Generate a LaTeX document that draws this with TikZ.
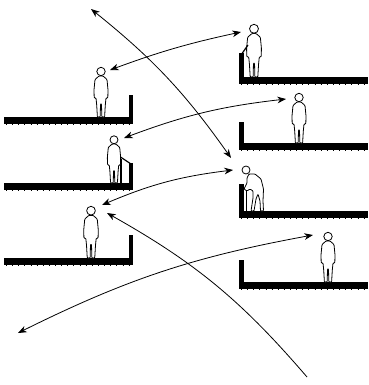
\documentclass[tikz,border=0pt]{standalone}
\usetikzlibrary{arrows.meta}

\begin{document}
\begin{tikzpicture}[x=0.75pt,y=0.75pt,
  line join=round,
  slab/.style={fill=black},
  ticks/.style={line width=0.9pt,dash pattern=on 0.3pt off 4.3pt},
  figure/.style={draw=black,fill=white,line width=0.6pt,rounded corners=0.6pt},
  rail/.style={draw=black,line width=0.9pt},
  sight/.style={line width=0.6pt,>={Stealth[length=6.5pt,width=5pt,inset=2pt]}},
  person/.pic={
    \path[figure] (-2,41) -- (-6,37.5) -- (-7,27) -- (-6.8,19) -- (-5,19)
      -- (-4.3,12) -- (-3.6,0) -- (-0.8,0) -- (-0.5,13) -- (0.5,13) -- (0.8,0)
      -- (3.6,0) -- (4.3,12) -- (5,19) -- (6.8,19) -- (7,27) -- (6,37.5)
      -- (2,41) -- cycle;
    \path[figure] (0,45.5) circle (4.2);
  },
  stooped/.pic={
    \draw[rail,line width=0.6pt] (-10,21) -- (-10,0);
    \path[figure] (-7,37) -- (-1,37) -- (5,32) -- (7.5,22) -- (7,10) -- (7.5,0)
      -- (4.5,0) -- (4,10) -- (2,17) -- (0,12) -- (-2,0) -- (-5,0) -- (-3,13)
      -- (-3,20) -- (-6,22) -- (-9,20) -- (-12,22) -- (-9,28) -- (-9,33) -- cycle;
    \path[figure] (-10,41) circle (4);
  }]
\useasboundingbox (0,0) rectangle (368,-385);

% balconies on the left
\foreach \y/\w in {117/95,183/163,258/235} {
  \fill[slab] (4,-\y) rectangle (133,-\y-7);
  \fill[slab] (129,-\w) rectangle (133,-\y);
  \draw[ticks] (6,-\y-7.5) -- (131,-\y-7.5);
}
% balconies on the right
\foreach \y/\w in {77/53,143/122,211/184,282/260} {
  \fill[slab] (239,-\y) rectangle (368,-\y-7);
  \fill[slab] (239,-\w) rectangle (244,-\y);
  \draw[ticks] (241,-\y-7.5) -- (368,-\y-7.5);
}

% people
\pic at (101,-117) {person};
\draw[rail] (119,-156) -- (131,-164);
\draw[rail] (121,-159) -- (121,-183);
\pic[scale=0.95] at (114,-183) {person};
\pic[scale=1.04] at (91,-258) {person};
\pic[scale=1.06] at (254,-77) {person};
\draw[rail] (241,-55) -- (248,-45);
\pic at (299,-143) {person};
\pic at (256,-211) {stooped};
\pic at (328,-282) {person};

% lines of sight
\coordinate (sky) at (91,-9);
\coordinate (r3hi) at (231,-158);
\coordinate (l1) at (110,-70);
\coordinate (r1) at (241,-32);
\coordinate (l2) at (124,-138);
\coordinate (r2) at (286,-99);
\coordinate (l3hi) at (102,-205);
\coordinate (r3) at (233,-170);
\coordinate (street) at (307,-377);
\coordinate (l3lo) at (107,-213);
\coordinate (ground) at (18,-333);
\coordinate (r4) at (313,-235);

\draw[sight,<->] (sky) to[bend left=8] (r3hi);
\draw[sight,<->] (l1) to[bend left=4] (r1);
\draw[sight,<->] (l2) to[bend left=7] (r2);
\draw[sight,<->] (l3hi) to[bend left=8] (r3);
\draw[sight,->] (street) to[bend right=10] (l3lo);
\draw[sight,<->] (ground) to[bend left=8] (r4);
\end{tikzpicture}
\end{document}
